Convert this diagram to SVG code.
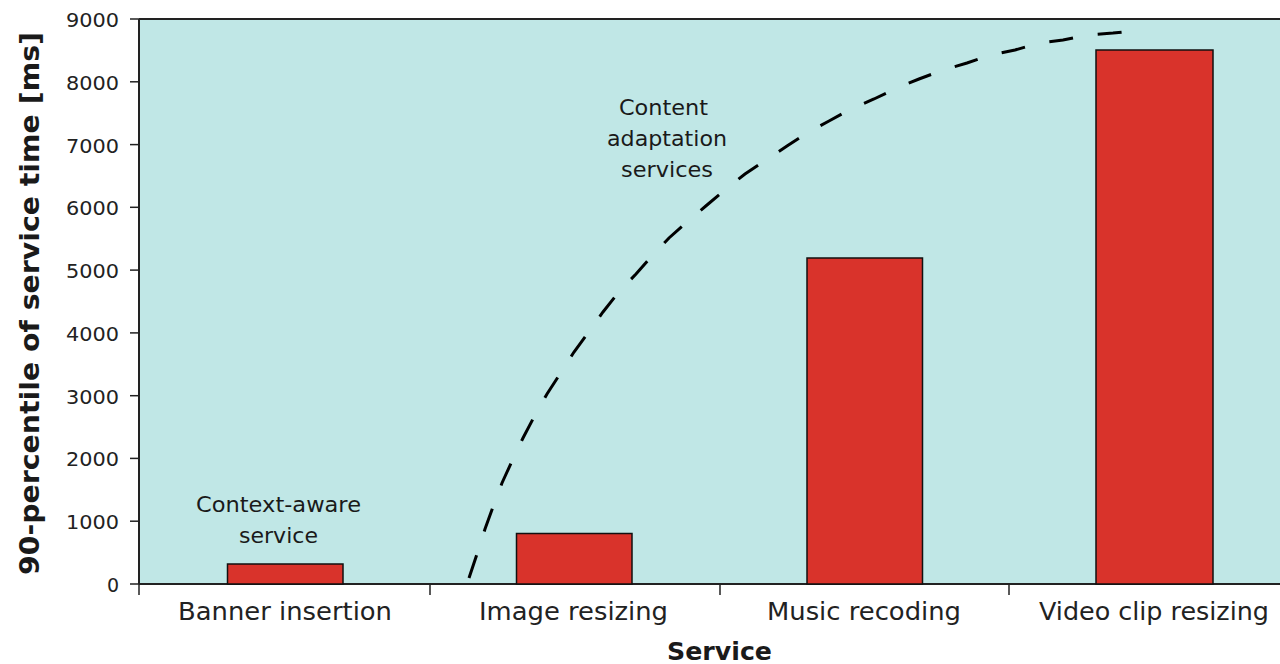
<svg xmlns="http://www.w3.org/2000/svg" width="1280" height="664" viewBox="0 0 1280 664">
  <style>
    text { font-family: "DejaVu Sans", "Liberation Sans", sans-serif; fill: #1a1a1a; }
    .tick { font-size: 19px; text-anchor: end; fill: #222; }
    .cat { font-size: 25px; text-anchor: middle; fill: #222; }
    .note { font-size: 21px; text-anchor: middle; }
    .axis-title { font-size: 25px; font-weight: bold; text-anchor: middle; }
    .ylab { font-size: 27px; }
    .bar { fill: #d9332b; stroke: #111; stroke-width: 1.5; }
    .axis { stroke: #222; stroke-width: 2; fill: none; }
    .tk { stroke: #222; stroke-width: 1.5; }
  </style>

  <!-- plot background -->
  <rect id="plot-area" x="139" y="19" width="1141" height="565" fill="#c0e7e6"/>

  <!-- axes -->
  <g id="axes">
    <line class="axis" x1="139" y1="19" x2="1280" y2="19"/>
    <line class="axis" x1="139" y1="19" x2="139" y2="584"/>
    <line class="axis" x1="139" y1="584" x2="1280" y2="584"/>
    <!-- y ticks -->
    <g class="tk">
      <line x1="130" y1="19" x2="139" y2="19"/>
      <line x1="130" y1="81.8" x2="139" y2="81.8"/>
      <line x1="130" y1="144.6" x2="139" y2="144.6"/>
      <line x1="130" y1="207.3" x2="139" y2="207.3"/>
      <line x1="130" y1="270.1" x2="139" y2="270.1"/>
      <line x1="130" y1="332.9" x2="139" y2="332.9"/>
      <line x1="130" y1="395.7" x2="139" y2="395.7"/>
      <line x1="130" y1="458.4" x2="139" y2="458.4"/>
      <line x1="130" y1="521.2" x2="139" y2="521.2"/>
      <line x1="130" y1="584" x2="139" y2="584"/>
      <!-- x ticks -->
      <line x1="139" y1="584" x2="139" y2="595"/>
      <line x1="430" y1="584" x2="430" y2="595"/>
      <line x1="720" y1="584" x2="720" y2="595"/>
      <line x1="1009" y1="584" x2="1009" y2="595"/>
    </g>
    <text class="tick" x="119" y="27" textLength="53" lengthAdjust="spacingAndGlyphs">9000</text>
    <text class="tick" x="119" y="89.8" textLength="53" lengthAdjust="spacingAndGlyphs">8000</text>
    <text class="tick" x="119" y="152.6" textLength="53" lengthAdjust="spacingAndGlyphs">7000</text>
    <text class="tick" x="119" y="215.3" textLength="53" lengthAdjust="spacingAndGlyphs">6000</text>
    <text class="tick" x="119" y="278.1" textLength="53" lengthAdjust="spacingAndGlyphs">5000</text>
    <text class="tick" x="119" y="340.9" textLength="53" lengthAdjust="spacingAndGlyphs">4000</text>
    <text class="tick" x="119" y="403.7" textLength="53" lengthAdjust="spacingAndGlyphs">3000</text>
    <text class="tick" x="119" y="466.4" textLength="53" lengthAdjust="spacingAndGlyphs">2000</text>
    <text class="tick" x="119" y="529.2" textLength="53" lengthAdjust="spacingAndGlyphs">1000</text>
    <text class="tick" x="119" y="592">0</text>

    <text class="cat" x="285" y="620" textLength="214" lengthAdjust="spacingAndGlyphs">Banner insertion</text>
    <text class="cat" x="573.5" y="620" textLength="189" lengthAdjust="spacingAndGlyphs">Image resizing</text>
    <text class="cat" x="864" y="620" textLength="194" lengthAdjust="spacingAndGlyphs">Music recoding</text>
    <text class="cat" x="1154" y="620" textLength="230" lengthAdjust="spacingAndGlyphs">Video clip resizing</text>

    <text class="axis-title" x="719.5" y="660" textLength="105" lengthAdjust="spacingAndGlyphs">Service</text>
    <text class="axis-title ylab" transform="translate(39 303.5) rotate(-90)" x="0" y="0" textLength="543" lengthAdjust="spacingAndGlyphs">90-percentile of service time [ms]</text>
  </g>

  <!-- bars -->
  <g id="bar-banner"><rect class="bar" x="227.5" y="564" width="115.5" height="20"/></g>
  <g id="bar-image"><rect class="bar" x="516.5" y="533.5" width="115.5" height="50.5"/></g>
  <g id="bar-music"><rect class="bar" x="807" y="258" width="115.5" height="326"/></g>
  <g id="bar-video"><rect class="bar" x="1096" y="50" width="117" height="534"/></g>

  <!-- dashed trend curve -->
  <g id="connectors">
    <polyline fill="none" stroke="#000" stroke-width="3" stroke-dasharray="24 25"
      points="469,578 477,554 485,529 493,507 502,483 512,461 523,438 534,417 547,394 560,374 574,352 588,333 603,312 618,293 636,274 652,256 669,238 687,222 707,205 726,189 745,174 766,160 787,146 807,133 829,121 851,109 874,99 897,88 919,79 943,70 967,63 990,55 1015,50 1039,43 1063,40 1087,35 1113,33 1133,31"/>
  </g>

  <!-- annotations -->
  <g id="label-context">
    <text class="note" x="278.5" y="512" textLength="165" lengthAdjust="spacingAndGlyphs">Context-aware</text>
    <text class="note" x="278.5" y="543" textLength="79" lengthAdjust="spacingAndGlyphs">service</text>
  </g>
  <g id="label-content">
    <text class="note" x="663.5" y="115" textLength="89" lengthAdjust="spacingAndGlyphs">Content</text>
    <text class="note" x="667" y="146" textLength="120" lengthAdjust="spacingAndGlyphs">adaptation</text>
    <text class="note" x="667" y="177" textLength="92" lengthAdjust="spacingAndGlyphs">services</text>
  </g>
</svg>
